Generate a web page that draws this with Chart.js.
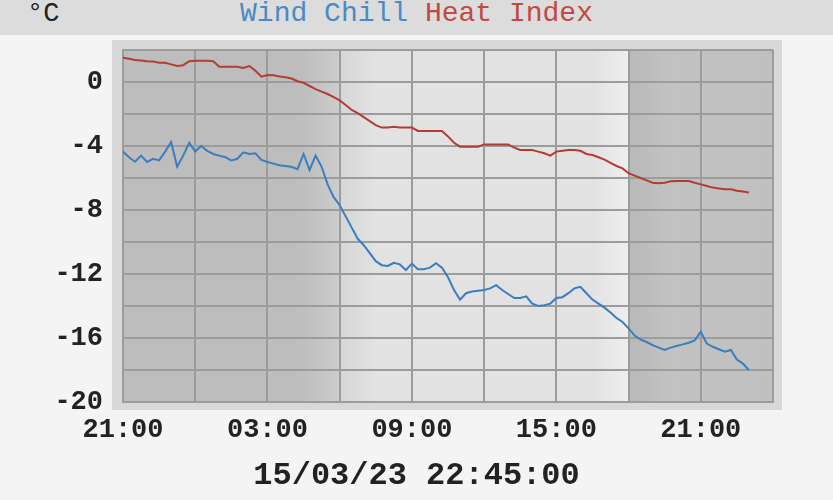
<!DOCTYPE html>
<html>
<head>
<meta charset="utf-8">
<script src="https://cdn.jsdelivr.net/npm/chart.js@4.4.1/dist/chart.umd.min.js"></script>
<style>
  body { margin: 0; background: #f4f4f4; font-family: "Liberation Mono", monospace; }
  #wrap { position: relative; width: 833px; height: 500px; }
  #head { position: absolute; left: 0; top: 0; width: 833px; height: 35px; background: #dcdcdc; }
  #unit { position: absolute; left: 27px; top: 0; font-size: 27px; line-height: 28px; color: #222; }
  #legend { position: absolute; left: 0; width: 833px; top: 0; text-align: center; font-size: 28px; line-height: 28px; }
  #stamp { position: absolute; left: 0; width: 833px; top: 456px; text-align: center; font-size: 32px; font-weight: bold; line-height: 40px; color: #222; }
  canvas { position: absolute; left: 0; top: 0; }
</style>
</head>
<body>
<div id="wrap">
  <canvas id="myChart" width="833" height="500"></canvas>
  <div id="head">
    <span id="unit">°C</span>
    <div id="legend"><span style="color:#4a8ac6">Wind Chill</span> <span style="color:#bf4a44">Heat Index</span></div>
  </div>
  <div id="stamp">15/03/23 22:45:00</div>
</div>
<script>
// readings every 15 minutes, starting 21:00 the day before
const startHour = 21;
const stepHours = 0.25;

const windChill = [
  -4.35, -4.7, -4.98, -4.6, -5.0, -4.8, -4.9, -4.35, -3.75, -5.3,
  -4.6, -3.8, -4.35, -4.0, -4.3, -4.5, -4.6, -4.7, -4.9, -4.8,
  -4.4, -4.5, -4.46, -4.87, -5.0, -5.1, -5.2, -5.25, -5.3, -5.45,
  -4.5, -5.5, -4.6, -5.3, -6.4, -7.2, -7.7, -8.4, -9.1, -9.8,
  -10.2, -10.7, -11.2, -11.45, -11.5, -11.3, -11.4, -11.75, -11.35, -11.7,
  -11.7, -11.6, -11.33, -11.6, -12.2, -13.0, -13.6, -13.2, -13.1, -13.05,
  -13.0, -12.9, -12.7, -13.0, -13.25, -13.5, -13.5, -13.4, -13.85, -14.0,
  -13.95, -13.85, -13.5, -13.45, -13.2, -12.9, -12.8, -13.2, -13.6, -13.85,
  -14.1, -14.4, -14.75, -15.0, -15.4, -15.85, -16.1, -16.25, -16.45, -16.6,
  -16.75, -16.6, -16.5, -16.4, -16.3, -16.15, -15.6, -16.35, -16.55, -16.7,
  -16.85, -16.75, -17.35, -17.6, -18.0
];

const heatIndex = [
  1.52, 1.45, 1.37, 1.35, 1.3, 1.28, 1.2, 1.2, 1.1, 1.0,
  1.05, 1.3, 1.33, 1.33, 1.33, 1.3, 0.96, 0.96, 0.96, 0.95,
  0.88, 1.0, 0.7, 0.33, 0.44, 0.42, 0.35, 0.3, 0.22, 0.05,
  -0.05, -0.25, -0.45, -0.6, -0.75, -0.95, -1.15, -1.44, -1.75, -1.95,
  -2.2, -2.45, -2.7, -2.85, -2.85, -2.8, -2.85, -2.85, -2.85, -3.06,
  -3.06, -3.06, -3.06, -3.06, -3.4, -3.8, -4.04, -4.04, -4.04, -4.04,
  -3.9, -3.9, -3.9, -3.9, -3.9, -4.1, -4.25, -4.25, -4.25, -4.35,
  -4.45, -4.6, -4.35, -4.3, -4.25, -4.25, -4.3, -4.5, -4.56, -4.7,
  -4.85, -5.05, -5.25, -5.4, -5.7, -5.85, -6.0, -6.15, -6.3, -6.33,
  -6.3, -6.2, -6.19, -6.19, -6.19, -6.3, -6.4, -6.5, -6.6, -6.65,
  -6.7, -6.7, -6.8, -6.85, -6.9
];

// sunrise / sunset, hours after 21:00
const sunrise = 9.0;
const sunset = 21.07;

const toPoints = (vals) => vals.map((v, i) => ({ x: i * stepHours, y: v }));

const dayNight = {
  id: "dayNight",
  beforeDraw(chart) {
    const { ctx, chartArea: a, scales } = chart;
    ctx.save();
    ctx.fillStyle = "#d8d8d8";
    ctx.fillRect(a.left - 11, a.top - 10, a.width + 20, a.height + 18);
    const xs = scales.x;
    const f = (h) => (xs.getPixelForValue(h) - a.left) / a.width;
    const g = ctx.createLinearGradient(a.left, 0, a.right, 0);
    g.addColorStop(0, "#bdbdbd");
    g.addColorStop(f(sunrise - 1.6), "#bdbdbd");
    g.addColorStop(f(sunrise - 0.05), "#cccccc");
    g.addColorStop(f(sunrise), "#d6d6d6");
    g.addColorStop(f(sunrise + 1.5), "#e2e2e2");
    g.addColorStop(f(sunset - 1.6), "#e2e2e2");
    g.addColorStop(f(sunset - 0.05), "#eeeeee");
    g.addColorStop(f(sunset), "#b9b9b9");
    g.addColorStop(f(sunset + 1.6), "#c2c2c2");
    g.addColorStop(1, "#c0c0c0");
    ctx.fillStyle = g;
    ctx.fillRect(a.left, a.top, a.width, a.height);
    ctx.restore();
  },
};

const tickFont = { family: "Liberation Mono", size: 27, weight: "bold" };

let myChart = new Chart(document.getElementById("myChart").getContext("2d"), {
  type: "line",
  data: {
    datasets: [
      {
        label: "Wind Chill",
        data: toPoints(windChill),
        borderColor: "#3a7ebf",
        borderWidth: 2,
        pointRadius: 0,
        tension: 0,
      },
      {
        label: "Heat Index",
        data: toPoints(heatIndex),
        borderColor: "#b23c36",
        borderWidth: 2,
        pointRadius: 0,
        tension: 0,
      },
    ],
  },
  options: {
    responsive: false,
    animation: false,
    devicePixelRatio: 1,
    layout: { padding: { top: 50, right: 60, left: 0, bottom: 0 } },
    plugins: { legend: { display: false }, tooltip: { enabled: false } },
    scales: {
      x: {
        type: "linear",
        min: 0,
        max: 27,
        afterFit: (s) => { s.height = 98; },
        grid: { color: "#9c9c9c", lineWidth: 2, drawTicks: false },
        border: { color: "#9c9c9c", width: 2 },
        ticks: {
          stepSize: 3,
          padding: 12,
          color: "#222",
          font: tickFont,
          maxRotation: 0,
          autoSkip: false,
          callback: (v) => {
            if (v % 6 !== 0) return "";
            const h = (startHour + v) % 24;
            return String(h).padStart(2, "0") + ":00";
          },
        },
      },
      y: {
        min: -20,
        max: 2,
        afterFit: (s) => { s.width = 123; },
        grid: { color: "#9c9c9c", lineWidth: 2, drawTicks: false },
        border: { color: "#9c9c9c", width: 2 },
        ticks: {
          stepSize: 2,
          padding: 20,
          color: "#222",
          font: tickFont,
          autoSkip: false,
          callback: (v) => (v % 4 === 0 ? v : ""),
        },
      },
    },
  },
  plugins: [dayNight],
});
</script>
</body>
</html>
